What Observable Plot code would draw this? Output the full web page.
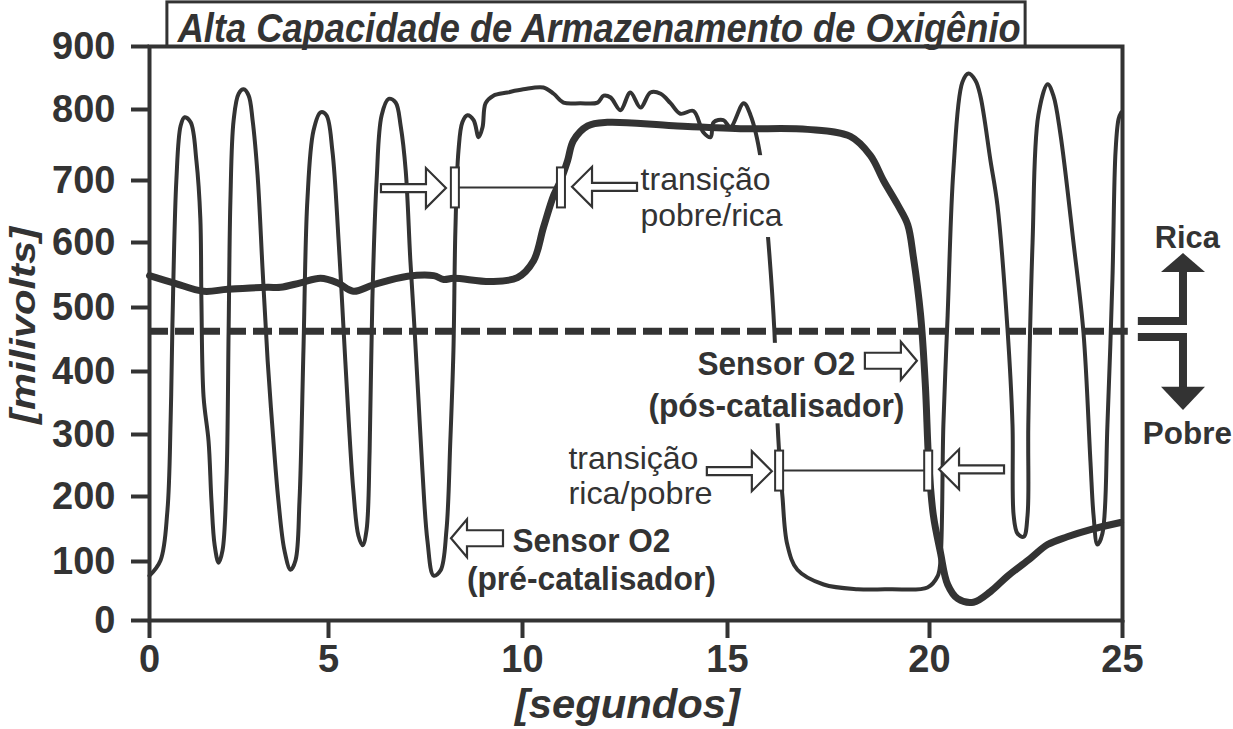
<!DOCTYPE html>
<html>
<head>
<meta charset="utf-8">
<script src="https://cdn.jsdelivr.net/npm/d3@7"></script>
<script src="https://cdn.jsdelivr.net/npm/@observablehq/plot@0.6"></script>
<style>
  html, body { margin: 0; padding: 0; background: #fff; }
  #chart { width: 1233px; height: 729px; }
</style>
</head>
<body>
<div id="chart"></div>
<script>
// ---------- data ----------
const xTicks = [0, 5, 10, 15, 20, 25];
const yTicks = [0, 100, 200, 300, 400, 500, 600, 700, 800, 900];

// Sensor O2 pré-catalisador (thin trace)
const thinT = [0,0.31,0.5,0.59,0.64,0.75,0.87,0.98,1.15,1.31,
  1.42,1.45,1.51,1.65,1.73,1.82,1.93,2.04,2.15,2.21,
  2.26,2.35,2.49,2.63,2.77,2.88,3.02,3.16,3.30,3.44,
  3.60,3.77,3.94,4.08,4.19,4.30,4.41,4.58,4.78,4.94,
  5.10,5.26,5.39,5.52,5.64,5.77,5.88,5.98,6.06,6.13,
  6.24,6.37,6.55,6.73,6.86,6.99,7.11,7.22,7.32,7.42,
  7.55,7.71,7.89,8.04,8.14,8.22,8.27,8.35,8.45,8.58,
  8.74,8.87,8.97,9.05,9.25,9.61,10.02,10.51,10.76,11.0,
  11.41,11.83,11.98,12.15,12.39,12.63,12.88,13.12,13.37,13.61,
  13.85,14.17,14.41,14.59,14.66,14.90,15.07,15.40,15.57,15.82,
  16.01,16.16,16.24,16.31,16.36,16.48,16.73,17.38,18.22,19.03,
  19.95,20.21,20.28,20.36,20.47,20.62,20.85,21.01,21.19,21.32,
  21.58,21.76,22.02,22.15,22.18,22.28,22.44,22.54,22.56,22.67,
  22.82,23.06,23.21,23.39,23.73,23.99,24.17,24.25,24.35,24.48,
  24.61,24.74,24.82,24.90,24.97];
const thinMv = [76,102,178,322,472,700,777,789,782,728,
  639,511,360,289,194,125,98,117,226,464,
  668,785,825,832,822,785,707,557,417,306,
  194,117,86,102,194,433,668,770,796,792,
  742,603,464,322,210,140,125,148,274,511,
  700,792,817,811,777,714,572,464,354,242,
  132,76,85,148,290,433,619,742,782,792,
  785,761,775,810,822,827,832,835,825,811,
  810,811,822,819,799,827,803,827,825,810,
  794,798,768,761,782,785,775,810,792,732,
  603,464,316,240,200,126,86,61,53,53,
  56,75,98,316,488,715,843,857,846,821,
  728,660,467,316,171,143,138,171,316,600,
  792,840,822,766,600,460,256,171,126,143,
  316,545,741,787,796];

// Sensor O2 pós-catalisador (thick trace)
const thickT = [0,0.67,1.51,2.18,3.30,3.66,4.22,4.78,5.23,5.64,
  6.16,7.04,7.71,7.97,8.22,9.18,9.87,10.27,10.51,10.76,
  10.93,11.10,11.24,11.59,12.07,13.68,15.32,16.98,18.04,18.54,
  18.86,19.21,19.46,19.60,19.78,19.90,19.98,20.10,20.28,20.47,
  20.73,21.14,21.58,22.02,22.62,23.06,23.57,24.17,24.95];
const thickMv = [549,538,525,528,531,531,538,545,538,525,
  535,548,549,543,545,540,546,572,624,676,
  700,728,756,777,782,777,773,772,762,735,
  700,661,629,578,488,375,256,171,115,61,
  37,31,49,75,105,126,138,149,160];

const thresholdMv = 463;

// texts
const titleText = "Alta Capacidade de Armazenamento de Oxigênio";
const xLabel = "[segundos]";
const yLabel = "[milivolts]";
const noteText = ["transição", "pobre/rica", "transição", "rica/pobre"];
const noteX = [12.88, 12.88, 11.12, 11.12];
const noteY = [684, 627, 244, 189];
const sensorText = ["Sensor O2", "(pós-catalisador)", "Sensor O2", "(pré-catalisador)"];
const sensorX = [16.21, 16.21, 11.68, 11.68];
const sensorY = [394, 327, 114, 51];
const mixText = ["Rica", "Pobre"];
const mixX = [26.68, 26.68];
const mixY = [591, 285];

// annotation geometry (data units)
const bracketX1 = [8.27, 16.29];
const bracketX2 = [10.95, 19.98];
const bracketY = [688, 241];
const arrowX = [8.04, 11.22, 16.11, 20.26, 19.70, 8.17];
const arrowY = [687, 689, 240, 243, 416, 135];
const arrowDir = [1, -1, 1, -1, 1, -1];
const arrowKind = ["s", "s", "s", "s", "b", "b"];
const knockX1 = [12.78, 13.0];
const knockX2 = [16.46, 19.53];
const knockY1 = [608, 317];
const knockY2 = [735, 444];
const titleBoxX = [0.50, 22.49];
const titleBoxY = [900, 970];
const titleX = 11.87, titleY = 907;
const symStemX = 26.58, symBarX = 25.41;
const symBarY = [478, 453];
const symHeadBase = [554, 375];
const symTip = [583, 338];

// ---------- chart ----------
const INK = "#333";
const FONT = "'Liberation Sans', Arial, Helvetica, sans-serif";
const thin = thinT.map((t, i) => ({t, mv: thinMv[i]}));
const thick = thickT.map((t, i) => ({t, mv: thickMv[i]}));
const idx2 = [0, 1];
const idx4 = [0, 1, 2, 3];

const chart = Plot.plot({
  width: 1233,
  height: 729,
  marginLeft: 149, marginRight: 111, marginTop: 46, marginBottom: 109,
  style: {background: "#fff", color: INK, fontFamily: FONT, overflow: "visible"},
  x: {type: "linear", domain: xTicks, range: [149, 328, 522, 727, 929, 1122]},
  y: {type: "linear", domain: yTicks, range: [620, 561, 496, 434, 371, 307, 242, 180, 109, 46]},
  marks: [
    Plot.ruleY([thresholdMv], {x1: 0, x2: 25.15, stroke: INK, strokeWidth: 7, strokeDasharray: "19 7"}),
    Plot.line(thick, {x: "t", y: "mv", curve: "catmull-rom", stroke: INK, strokeWidth: 7}),
    Plot.line(thin, {x: "t", y: "mv", curve: "catmull-rom", stroke: INK, strokeWidth: 4}),
    Plot.rect(idx2, {x1: i => knockX1[i], x2: i => knockX2[i], y1: i => knockY1[i], y2: i => knockY2[i], fill: "#fff"}),
    Plot.frame({stroke: INK, strokeWidth: 4}),
    Plot.axisX({ticks: xTicks, tickSize: 18, tickPadding: 7, fontSize: 38, fontWeight: "bold", strokeWidth: 4, label: null}),
    Plot.axisY({ticks: yTicks, tickSize: 18, tickPadding: 16, fontSize: 38, fontWeight: "bold", strokeWidth: 4, label: null}),
    Plot.rect([0], {x1: titleBoxX[0], x2: titleBoxX[1], y1: titleBoxY[0], y2: titleBoxY[1], fill: "#fff", stroke: INK, strokeWidth: 3}),
    Plot.text([titleText], {x: titleX, y: titleY, text: d => d, textAnchor: "middle", lineAnchor: "bottom", fontSize: 40, fontWeight: "bold", fontStyle: "italic", fill: INK}),
    Plot.text([xLabel], {x: 12.56, y: -166, text: d => d, textAnchor: "middle", lineAnchor: "bottom", fontSize: 41, fontWeight: "bold", fontStyle: "italic", fill: INK}),
    Plot.text([yLabel], {x: -3.19, y: 472, text: d => d, rotate: -90, textAnchor: "middle", lineAnchor: "bottom", fontSize: 35, fontWeight: "bold", fontStyle: "italic", fill: INK}),
    Plot.text(idx4, {x: i => noteX[i], y: i => noteY[i], text: i => noteText[i], textAnchor: "start", lineAnchor: "bottom", fontSize: 32, fill: INK}),
    Plot.text(idx4, {x: i => sensorX[i], y: i => sensorY[i], text: i => sensorText[i], textAnchor: "middle", lineAnchor: "bottom", fontSize: 33, fontWeight: "bold", fill: INK}),
    Plot.text(idx2, {x: i => mixX[i], y: i => mixY[i], text: i => mixText[i], textAnchor: "middle", lineAnchor: "bottom", fontSize: 32, fontWeight: "bold", fill: INK})
  ]
});

document.getElementById("chart").appendChild(chart);

// fit text widths to the reference
const targetWidth = new Map([
  [titleText, 843], [xLabel, 225], [yLabel, 197],
  ["transição", 130], ["pobre/rica", 142], ["rica/pobre", 144],
  ["Sensor O2", 158], ["(pós-catalisador)", 256], ["(pré-catalisador)", 249],
  ["Rica", 65], ["Pobre", 89]
]);
chart.querySelectorAll("text").forEach(t => {
  const w = targetWidth.get(t.textContent);
  if (w) { t.setAttribute("textLength", w); t.setAttribute("lengthAdjust", "spacingAndGlyphs"); }
});

// annotation shapes drawn with the chart's own scales
const sx = chart.scale("x"), sy = chart.scale("y");
const X = v => sx.apply(v), Y = v => sy.apply(v);
const svg = d3.select(chart);
const g = svg.append("g").attr("stroke", INK).attr("stroke-linejoin", "miter");

// brackets
bracketX1.forEach((x1, i) => {
  const y = Y(bracketY[i]);
  g.append("line").attr("x1", X(x1)).attr("x2", X(bracketX2[i])).attr("y1", y).attr("y2", y).attr("stroke-width", 2);
  [x1, bracketX2[i]].forEach(x => {
    g.append("rect").attr("x", X(x) - 4).attr("y", y - 20).attr("width", 8).attr("height", 40)
      .attr("fill", "#fff").attr("stroke-width", 2);
  });
});

// hollow arrows
const arrowSize = {s: {sl: 45, sh: 4, hl: 20, hh: 20}, b: {sl: 36, sh: 8, hl: 16, hh: 19}};
arrowX.forEach((ax, i) => {
  const {sl, sh, hl, hh} = arrowSize[arrowKind[i]];
  const tx = X(ax), ty = Y(arrowY[i]), d = arrowDir[i];
  const b = tx - d * hl, e = b - d * sl;
  const pts = [[tx, ty], [b, ty - hh], [b, ty - sh], [e, ty - sh], [e, ty + sh], [b, ty + sh], [b, ty + hh]];
  g.append("polygon").attr("points", pts.map(p => p.join(",")).join(" "))
    .attr("fill", "#fff").attr("stroke-width", 2.2);
});

// Rica / Pobre symbol
const stemX = X(symStemX), barX = X(symBarX);
symBarY.forEach((by, i) => {
  const yb = Y(by), yh = Y(symHeadBase[i]), yt = Y(symTip[i]);
  const dir = yt < yb ? -1 : 1;
  g.append("path").attr("d", `M${barX},${yb} H${stemX} V${yh + dir * 2}`)
    .attr("fill", "none").attr("stroke-width", 8);
  g.append("polygon").attr("points", `${stemX - 22},${yh} ${stemX + 22},${yh} ${stemX},${yt}`)
    .attr("fill", INK).attr("stroke", "none");
});
</script>
</body>
</html>
